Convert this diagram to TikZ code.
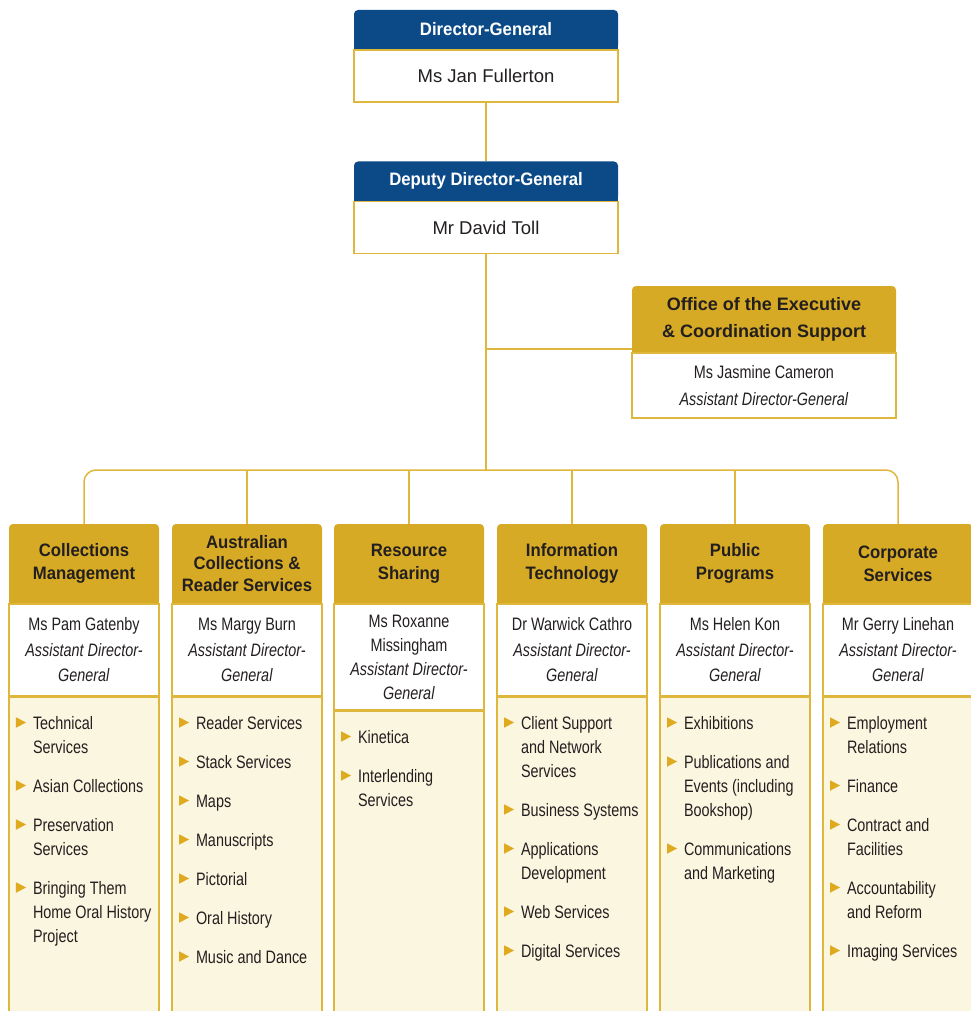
\documentclass[tikz,border=0pt]{standalone}
\usepackage{fontspec}
\setmainfont[FakeStretch=0.8]{Liberation Sans}
\newfontfamily\hdfont[FakeStretch=0.93]{Liberation Sans}
\newfontfamily\topfont{Liberation Sans}
\usetikzlibrary{positioning,backgrounds}

\definecolor{nlablue}{RGB}{11,74,135}
\definecolor{nlagold}{RGB}{214,170,36}
\definecolor{nlaline}{RGB}{222,183,60}
\definecolor{nlacream}{RGB}{251,246,224}
\definecolor{nlatext}{RGB}{35,31,32}
\definecolor{nlabullet}{RGB}{224,170,32}

\tikzset{
	hdr/.style = {fill = nlagold, rounded corners = 4pt, minimum width = 150, minimum height = 79, inner sep = 0, align = center, text = nlatext, font = \hdfont\bfseries\fontsize{18}{23}\selectfont},
	topbar/.style = {hdr, fill = nlablue, text = white, minimum width = 264, minimum height = 39},
	who/.style = {fill = white, draw = nlaline, line width = 1.5, minimum width = 150, minimum height = 92, inner sep = 0, align = center, text = nlatext, font = \fontsize{18}{25.5}\selectfont},
	topname/.style = {minimum width = 264, minimum height = 52, font = \topfont\fontsize{18.5}{24}\selectfont},
	lst/.style = {fill = nlacream, draw = nlaline, line width = 1.5, inner xsep = 7, inner ysep = 0, text = nlatext, font = \fontsize{18}{24}\selectfont},
	link/.style = {draw = nlaline, line width = 1.5}
}

% gold pointer in front of each unit
\newcommand\tri{\tikz[baseline = 0pt] \fill[nlabullet] (0pt, 1.5pt) -- (0pt, 12pt) -- (10pt, 6.75pt) -- cycle;}
\newcommand\units[1]{\parbox[t][330pt][t]{136pt}{\vspace*{15pt}\begin{tabular}[t]{@{}c@{\hspace{7pt}}l@{}}#1\end{tabular}}}

\begin{document}
\begin{tikzpicture}[x = 1pt, y = -1pt]
	\useasboundingbox ( 0, 0 ) rectangle ( 970, 1011 );

	% executive
	\node [topbar] (dg) at ( 486, 29.5 ) {Director-General};
	\node [who, topname, below = 0pt of dg] (dgn) {Ms Jan Fullerton};
	\node [topbar] (ddg) at ( 486, 181 ) {Deputy Director-General};
	\node [who, topname, below = 0pt of ddg] (ddgn) {Mr David Toll};
	\node [hdr, minimum width = 264, minimum height = 66, font = \topfont\bfseries\fontsize{18}{27}\selectfont] (oec) at ( 764, 319 ) {Office of the Executive\\\& Coordination Support};
	\node [who, below = 0pt of oec, minimum width = 264, minimum height = 65, font = \fontsize{18}{27}\selectfont] (oecn) {Ms Jasmine Cameron\\\textit{Assistant Director-General}};

	% divisions
	\node [hdr] (cm) at ( 84, 563.5 ) {Collections\\Management};
	\node [who, below = 0pt of cm] (cmw) {Ms Pam Gatenby\\\textit{Assistant Director-}\\\textit{General}};
	\node [lst, below = 0pt of cmw] (cml) {\units{
		\tri & Technical\\ & Services\\[15pt]
		\tri & Asian Collections\\[15pt]
		\tri & Preservation\\ & Services\\[15pt]
		\tri & Bringing Them\\ & Home Oral History\\ & Project}};

	\node [hdr, font = \hdfont\bfseries\fontsize{18}{21.5}\selectfont] (acr) at ( 247, 563.5 ) {Australian\\Collections \&\\Reader Services};
	\node [who, below = 0pt of acr] (acrw) {Ms Margy Burn\\\textit{Assistant Director-}\\\textit{General}};
	\node [lst, below = 0pt of acrw] (acrl) {\units{
		\tri & Reader Services\\[15pt]
		\tri & Stack Services\\[15pt]
		\tri & Maps\\[15pt]
		\tri & Manuscripts\\[15pt]
		\tri & Pictorial\\[15pt]
		\tri & Oral History\\[15pt]
		\tri & Music and Dance}};

	\node [hdr] (rs) at ( 409, 563.5 ) {Resource\\Sharing};
	\node [who, below = 0pt of rs, minimum height = 106, font = \fontsize{18}{24}\selectfont] (rsw) {Ms Roxanne\\Missingham\\\textit{Assistant Director-}\\\textit{General}};
	\node [lst, below = 0pt of rsw] (rsl) {\units{
		\tri & Kinetica\\[15pt]
		\tri & Interlending\\ & Services}};

	\node [hdr] (it) at ( 572, 563.5 ) {Information\\Technology};
	\node [who, below = 0pt of it] (itw) {Dr Warwick Cathro\\\textit{Assistant Director-}\\\textit{General}};
	\node [lst, below = 0pt of itw] (itl) {\units{
		\tri & Client Support\\ & and Network\\ & Services\\[15pt]
		\tri & Business Systems\\[15pt]
		\tri & Applications\\ & Development\\[15pt]
		\tri & Web Services\\[15pt]
		\tri & Digital Services}};

	\node [hdr] (pp) at ( 735, 563.5 ) {Public\\Programs};
	\node [who, below = 0pt of pp] (ppw) {Ms Helen Kon\\\textit{Assistant Director-}\\\textit{General}};
	\node [lst, below = 0pt of ppw] (ppl) {\units{
		\tri & Exhibitions\\[15pt]
		\tri & Publications and\\ & Events (including\\ & Bookshop)\\[15pt]
		\tri & Communications\\ & and Marketing}};

	\node [hdr] (cs) at ( 898, 563.5 ) {Corporate\\Services};
	\node [who, below = 0pt of cs] (csw) {Mr Gerry Linehan\\\textit{Assistant Director-}\\\textit{General}};
	\node [lst, below = 0pt of csw] (csl) {\units{
		\tri & Employment\\ & Relations\\[15pt]
		\tri & Finance\\[15pt]
		\tri & Contract and\\ & Facilities\\[15pt]
		\tri & Accountability\\ & and Reform\\[15pt]
		\tri & Imaging Services}};

	% square off the lower corners of the title bars
	\begin{scope}[on background layer]
		\fill [nlablue] (dg.west) rectangle (dg.south east);
		\fill [nlablue] (ddg.west) rectangle (ddg.south east);
		\foreach \n in {oec, cm, acr, rs, it, pp, cs}
			\fill [nlagold] (\n.west) rectangle (\n.south east);
	\end{scope}

	% lines of report
	\coordinate (jn) at ( 486, 349 );
	\coordinate (bus) at ( 486, 470 );
	\draw [link] (dgn.south) -- (ddg.north);
	\draw [link] (ddgn.south) -- (bus);
	\draw [link] (jn) -- (jn -| oec.west);
	\draw [link, rounded corners = 12] (cm.north) |- (bus) -| (cs.north);
	\draw [link] (acr.north) -- (acr.north |- bus);
	\draw [link] (rs.north) -- (rs.north |- bus);
	\draw [link] (it.north) -- (it.north |- bus);
	\draw [link] (pp.north) -- (pp.north |- bus);
\end{tikzpicture}
\end{document}
